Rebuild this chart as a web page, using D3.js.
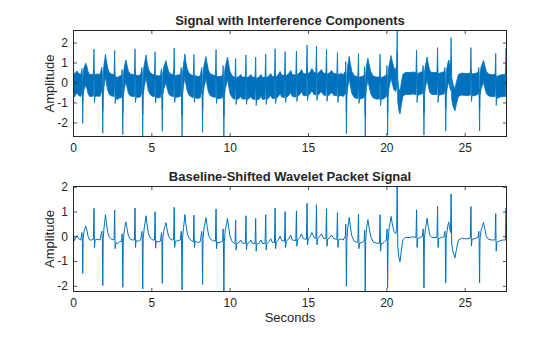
<!DOCTYPE html>
<html><head><meta charset="utf-8">
<script src="https://cdn.jsdelivr.net/npm/d3@7"></script>
<style>
body{margin:0;background:#fff}
svg{display:block}
text{font-family:"Liberation Sans",Arial,Helvetica,sans-serif;fill:#262626}
</style>
</head><body><svg id="c" width="560" height="337"></svg>
<script>
// ---- data ----
// vertices of the baseline-shifted signal (seconds)
const times = [
0.00,0.04,0.09,0.18,0.26,0.36,0.50,0.57,0.60,0.62,0.65,0.70,0.76,0.81,0.88,0.96,1.06,1.20,1.30,1.34,1.37,1.41,1.55,1.72,1.84,1.87,1.90,1.93,1.98,2.03,2.07,2.13,2.22,2.32,2.45,2.62,2.66,2.69,2.73,2.85,2.98,3.10,3.13,3.15,3.18,3.21,3.27,3.32,3.37,3.44,3.54,3.66,3.80,3.92,3.96,3.99,4.03,4.18,4.32,4.40,4.42,4.45,4.48,4.54,4.60,4.66,4.72,4.82,4.95,5.10,5.20,5.24,5.27,5.31,5.45,5.58,5.65,5.67,5.70,5.73,5.80,5.87,5.93,6.00,6.10,6.22,6.36,6.42,6.46,6.49,6.53,6.68,6.85,6.91,6.93,6.96,6.99,7.05,7.10,7.14,7.20,7.30,7.42,7.58,7.68,7.72,7.75,7.79,7.95,8.12,8.22,8.24,8.27,8.30,8.36,8.42,8.48,8.55,8.65,8.78,8.95,9.09,9.13,9.16,9.20,9.38,9.55,9.58,9.60,9.63,9.66,9.72,9.80,9.86,9.93,10.02,10.15,10.30,
10.34,10.38,10.41,10.45,10.60,10.70,10.80,11.00,11.04,11.07,11.11,11.25,11.35,11.45,11.62,11.66,11.69,11.73,11.88,12.00,12.10,12.26,12.30,12.33,12.37,12.50,12.62,12.72,12.86,12.90,12.93,12.97,13.10,13.22,13.32,13.50,13.54,13.57,13.61,13.75,13.90,14.00,14.22,14.26,14.29,14.33,14.48,14.58,14.70,14.90,14.94,14.97,15.01,15.15,15.25,15.38,15.50,15.54,15.57,15.61,15.75,15.85,15.98,16.14,16.18,16.21,16.25,16.40,16.50,16.65,16.84,16.88,16.91,16.95,17.10,17.25,17.38,17.41,17.43,17.45,17.48,17.53,17.58,17.63,17.70,17.80,17.95,18.10,18.18,18.22,18.25,18.29,18.45,18.58,18.61,18.63,18.65,18.68,18.73,18.78,18.82,18.90,19.00,19.15,19.35,19.56,19.60,19.63,19.67,19.85,20.00,20.04,20.06,20.08,20.11,20.17,20.24,20.30,20.38,20.48,20.60,20.66,20.69,20.73,20.80,20.87,20.95,21.05,21.20,21.50,21.70,21.89,21.93,21.96,22.00,22.15,22.30,22.35,22.37,22.40,22.43,22.49,22.55,22.60,22.67,22.77,22.90,23.10,23.23,23.27,23.30,23.34,23.50,23.68,23.74,23.76,23.79,23.82,23.88,23.93,23.98,24.05,24.10,24.13,24.17,24.26,24.38,24.48,24.60,24.80,25.05,25.20,25.36,25.40,25.43,25.47,25.65,25.85,25.90,25.92,25.95,25.98,26.05,26.13,26.20,26.28,26.38,26.52,26.70,26.94,26.98,27.01,27.05,27.25,27.45,27.60,27.64,27.67,27.70
];
const amplitude = [
0.38,0.05,-0.18,-0.05,0.03,-0.10,-0.15,0.15,-0.20,-1.50,-0.10,0.20,0.30,0.42,0.28,0.00,-0.15,-0.15,-0.12,1.13,-0.46,-0.15,-0.12,-0.15,0.20,-0.10,-1.99,-0.10,0.35,0.60,0.87,0.55,0.15,-0.05,-0.12,-0.15,1.06,-0.50,-0.25,-0.30,-0.22,-0.20,0.10,-0.15,-2.06,-0.15,0.20,0.40,0.58,0.35,0.00,-0.12,-0.15,-0.15,1.14,-0.45,-0.18,-0.20,-0.15,0.20,-0.10,-2.13,-0.10,0.30,0.55,0.83,0.50,0.10,-0.08,-0.15,-0.15,0.99,-0.48,-0.20,-0.22,-0.20,0.15,-0.10,-1.90,-0.10,0.25,0.40,0.55,0.30,0.00,-0.12,-0.15,-0.15,1.17,-0.45,-0.20,-0.18,-0.15,0.20,-0.10,-2.16,-0.10,0.35,0.60,0.88,0.50,0.10,-0.10,-0.18,-0.22,0.85,-0.45,-0.20,-0.25,-0.22,0.20,-0.10,-1.95,-0.10,0.30,0.50,0.75,0.45,0.05,-0.12,-0.18,-0.20,1.10,-0.50,-0.25,-0.25,-0.20,0.30,-0.20,-2.25,-0.20,0.25,0.50,0.72,0.40,0.00,-0.20,-0.30,
-0.25,0.65,-0.55,-0.30,-0.25,-0.15,-0.28,-0.28,0.83,-0.55,-0.30,-0.25,-0.15,-0.28,-0.30,0.72,-0.60,-0.32,-0.28,-0.15,-0.30,-0.28,0.87,-0.55,-0.30,-0.22,-0.10,-0.25,-0.25,1.14,-0.50,-0.25,-0.15,0.00,-0.18,-0.20,1.00,-0.45,-0.20,-0.12,0.05,-0.15,-0.18,1.03,-0.40,-0.15,-0.05,0.10,-0.10,-0.12,1.33,-0.35,-0.10,0.00,0.15,-0.05,-0.08,1.27,-0.35,-0.10,0.00,0.10,-0.08,-0.10,1.11,-0.40,-0.12,-0.05,0.05,-0.10,-0.12,0.95,-0.45,-0.15,-0.10,-0.15,0.00,0.50,-0.30,-2.02,-0.20,0.30,0.50,0.76,0.40,0.00,-0.20,-0.25,-0.25,0.90,-0.50,-0.28,-0.25,-0.20,0.25,-0.20,-2.25,-0.20,0.30,0.50,0.67,0.35,0.00,-0.22,-0.28,-0.28,0.87,-0.60,-0.30,-0.25,-0.15,0.30,-0.20,-2.08,-0.20,0.30,0.55,0.80,0.50,0.20,0.10,0.30,2.03,-0.40,-0.85,-1.03,-0.60,-0.15,-0.05,-0.05,-0.02,-0.05,1.07,-0.45,-0.10,-0.05,0.00,0.30,-0.10,-2.09,-0.10,0.30,0.50,0.73,0.40,0.05,-0.05,-0.05,-0.05,1.20,-0.45,-0.10,-0.05,-0.02,0.20,-0.10,-1.88,-0.10,0.25,0.45,0.58,0.30,0.15,1.71,-0.30,-0.65,-0.87,-0.50,-0.15,-0.08,-0.10,-0.10,-0.08,1.20,-0.40,-0.12,-0.10,-0.05,0.20,-0.10,-1.88,-0.10,0.25,0.40,0.56,0.30,0.00,-0.12,-0.15,-0.15,0.92,-0.60,-0.25,-0.18,-0.15,-0.15,1.15,-0.45,-0.30
];
// half-width of the dense interference band seen in the upper panel
const interferenceHalfWidth = 0.55;
const xTicks = [0, 5, 10, 15, 20, 25];
const yTicks = [-2, -1, 0, 1, 2];
const xLimits = [0, 27.7];
const topYLimits = [-2.73, 2.63];
const bottomYLimits = [-2.25, 2.03];
const titles = ["Signal with Interference Components", "Baseline-Shifted Wavelet Packet Signal"];
const xLabel = "Seconds";
const yLabel = "Amplitude";

// ---- drawing ----
const color = "#0072BD";
const axColor = "#262626";
const svg = d3.select("#c");
const L = 73, R = 507;
const panels = [
  {top: 30, bottom: 137, dom: topYLimits, title: titles[0], band: true},
  {top: 186, bottom: 292, dom: bottomYLimits, title: titles[1], band: false}
];
const rows = times.map((t, i) => ({t, v: amplitude[i]}));

panels.forEach((p, k) => {
  const x = d3.scaleLinear().domain(xLimits).range([L, R]);
  const y = d3.scaleLinear().domain(p.dom).range([p.bottom, p.top]);
  const clipId = "clip" + k;
  svg.append("clipPath").attr("id", clipId).append("rect")
    .attr("x", L).attr("y", p.top).attr("width", R - L).attr("height", p.bottom - p.top);
  const g = svg.append("g").attr("clip-path", `url(#${clipId})`);
  if (p.band) {
    const area = d3.area().x(d => x(d.t))
      .y0(d => y(d.v - interferenceHalfWidth)).y1(d => y(d.v + interferenceHalfWidth));
    g.append("path").datum(rows).attr("d", area)
      .attr("fill", color).attr("stroke", color).attr("stroke-width", 0.8).attr("stroke-linejoin", "round");
  } else {
    const line = d3.line().x(d => x(d.t)).y(d => y(d.v));
    g.append("path").datum(rows).attr("d", line)
      .attr("fill", "none").attr("stroke", color).attr("stroke-width", 1).attr("stroke-linejoin", "round");
  }
  // axes
  const fs = "12px";
  const ab = svg.append("g").attr("transform", `translate(0,${p.bottom})`)
    .call(d3.axisBottom(x).tickValues(xTicks).tickSizeInner(-4).tickSizeOuter(0).tickPadding(6));
  const at = svg.append("g").attr("transform", `translate(0,${p.top})`)
    .call(d3.axisTop(x).tickValues(xTicks).tickSizeInner(-4).tickSizeOuter(0).tickFormat(""));
  const al = svg.append("g").attr("transform", `translate(${L},0)`)
    .call(d3.axisLeft(y).tickValues(yTicks).tickSizeInner(-4).tickSizeOuter(0).tickPadding(5));
  const ar = svg.append("g").attr("transform", `translate(${R},0)`)
    .call(d3.axisRight(y).tickValues(yTicks).tickSizeInner(-4).tickSizeOuter(0).tickFormat(""));
  [ab, at, al, ar].forEach(a => {
    a.select(".domain").remove();
    a.selectAll("line").attr("stroke", axColor).attr("stroke-width", 0.8);
    a.selectAll("text").attr("fill", axColor).style("font-size", fs)
      .attr("font-family", '"Liberation Sans",Arial,sans-serif');
  });
  al.selectAll("text").text(d => d < 0 ? "-" + Math.abs(d) : d);
  svg.append("rect").attr("x", L + 0.5).attr("y", p.top + 0.5)
    .attr("width", R - L - 1).attr("height", p.bottom - p.top - 1)
    .attr("fill", "none").attr("stroke", axColor).attr("stroke-width", 1);
  svg.append("text").attr("x", (L + R) / 2).attr("y", p.top - 5.5)
    .attr("text-anchor", "middle").style("font-size", "13px").style("font-weight", "bold")
    .text(p.title);
  svg.append("text").attr("transform", `translate(54,${(p.top + p.bottom) / 2}) rotate(-90)`)
    .attr("text-anchor", "middle").style("font-size", "13px").text(yLabel);
  if (k === 1) {
    svg.append("text").attr("x", (L + R) / 2).attr("y", 321.5)
      .attr("text-anchor", "middle").style("font-size", "13px").text(xLabel);
  }
});
</script>
</body></html>
